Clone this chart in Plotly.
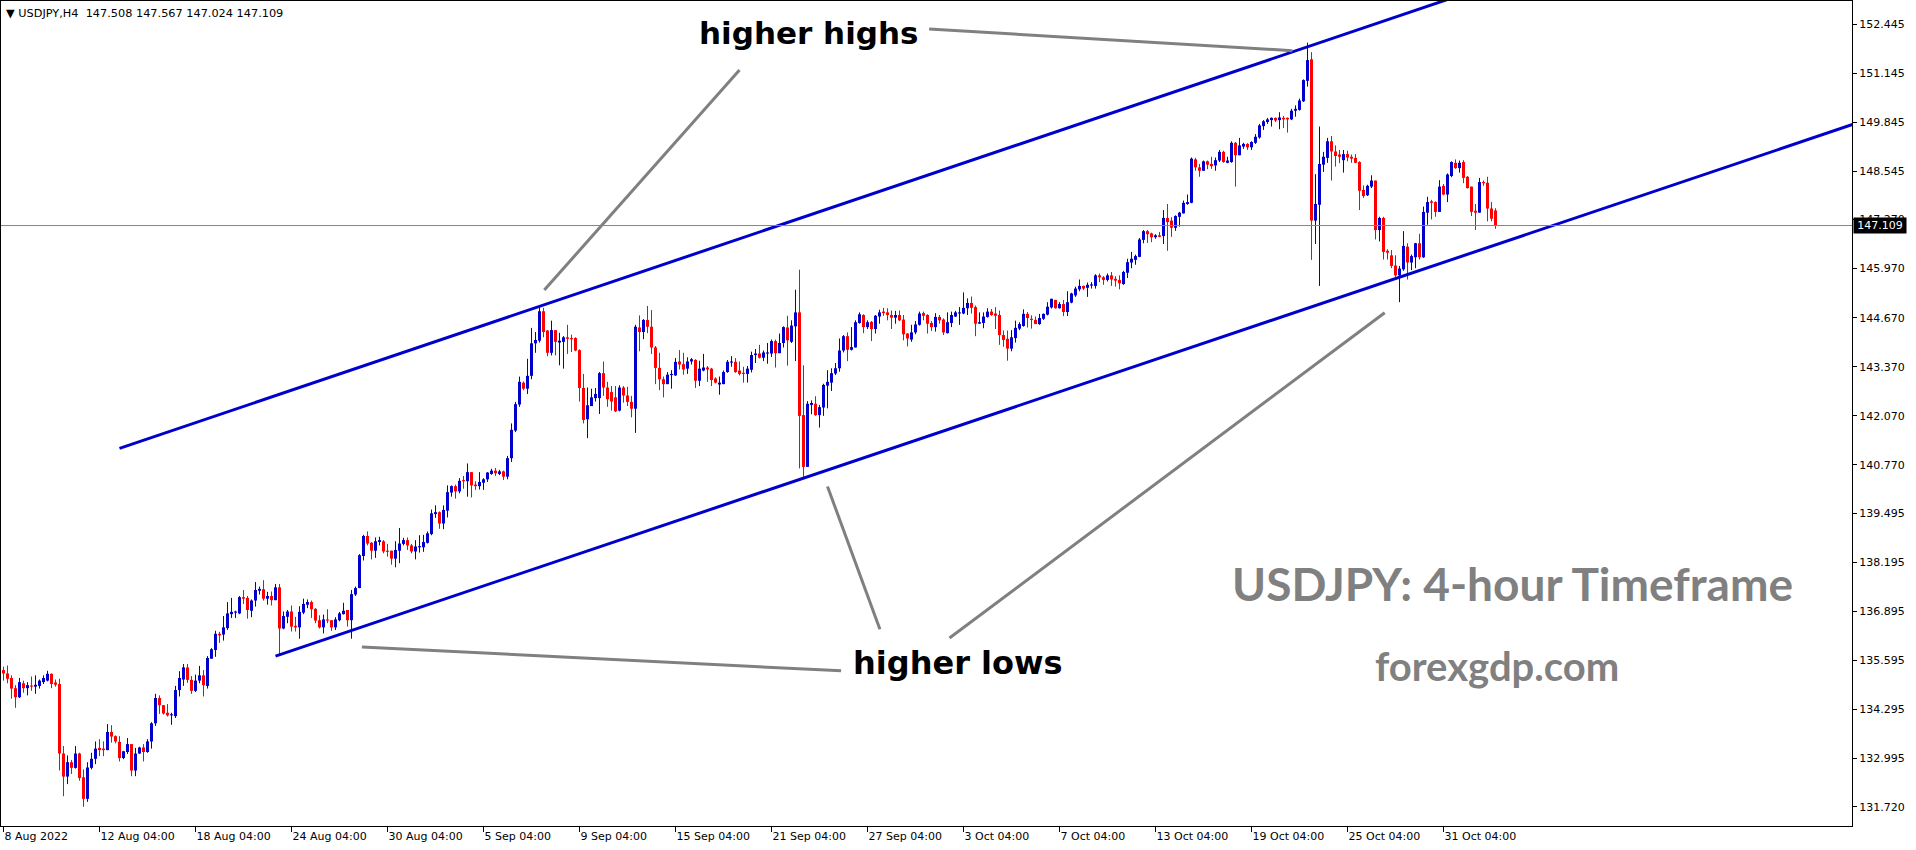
import plotly.graph_objects as go

# ---------------- data ----------------
TICK_BARS = [0, 24, 48, 72, 96, 120, 144, 168, 192, 216, 240, 264, 288, 312, 336, 360]
TICK_LABELS = ["8 Aug 2022", "12 Aug 04:00", "18 Aug 04:00", "24 Aug 04:00", "30 Aug 04:00",
               "5 Sep 04:00", "9 Sep 04:00", "15 Sep 04:00", "21 Sep 04:00", "27 Sep 04:00",
               "3 Oct 04:00", "7 Oct 04:00", "13 Oct 04:00", "19 Oct 04:00", "25 Oct 04:00",
               "31 Oct 04:00"]

PRICE_TICKS = [152.445, 151.145, 149.845, 148.545, 147.270, 145.970, 144.670, 143.370,
               142.070, 140.770, 139.495, 138.195, 136.895, 135.595, 134.295, 132.995, 131.720]

OPEN = [135.34, 135.25, 135.13, 134.86, 134.62, 134.99, 134.86, 134.92, 134.90, 134.92,
        135.02, 135.06, 135.24, 135.01, 134.97, 133.13, 132.52, 132.90, 132.75, 133.13,
        132.50, 131.93, 132.75, 132.99, 133.28, 133.26, 133.22, 133.70, 133.59, 133.44,
        133.01, 133.17, 133.38, 132.68, 133.13, 133.29, 133.17, 133.45, 133.93, 134.60,
        134.41, 134.21, 134.14, 134.12, 134.81, 135.09, 135.41, 135.08, 134.79, 135.06,
        135.20, 134.92, 135.64, 135.87, 136.30, 136.28, 136.45, 136.82, 136.86, 136.84,
        137.27, 137.25, 136.91, 137.18, 137.44, 137.48, 137.23, 137.30, 137.19, 137.53,
        136.44, 136.75, 136.89, 136.51, 136.47, 136.86, 137.07, 137.14, 136.96, 136.66,
        136.47, 136.68, 136.66, 136.47, 136.66, 136.82, 136.93, 136.66, 137.34, 137.51,
        138.36, 138.89, 138.71, 138.50, 138.73, 138.75, 138.50, 138.50, 138.29, 138.50,
        138.68, 138.78, 138.64, 138.48, 138.59, 138.59, 138.71, 138.94, 139.47, 139.52,
        139.22, 139.56, 140.04, 140.21, 140.07, 140.35, 140.34, 140.58, 140.25, 140.21,
        140.30, 140.39, 140.53, 140.62, 140.53, 140.60, 140.46, 140.95, 141.68, 142.37,
        142.95, 142.79, 143.13, 143.99, 144.06, 144.84, 144.33, 143.74, 144.34, 144.01,
        144.03, 144.15, 144.13, 144.13, 143.81, 142.81, 141.98, 142.33, 142.54, 142.54,
        143.20, 142.82, 142.70, 142.56, 142.21, 142.82, 142.61, 142.44, 142.26, 144.41,
        144.29, 144.61, 144.43, 143.88, 143.34, 143.04, 142.91, 143.15, 143.14, 143.51,
        143.44, 143.32, 143.51, 143.55, 143.00, 143.27, 143.35, 143.32, 143.06, 142.90,
        142.91, 143.23, 143.48, 143.50, 143.27, 143.21, 143.18, 143.29, 143.68, 143.72,
        143.61, 143.72, 143.72, 144.05, 143.73, 144.00, 144.41, 144.03, 144.44, 144.81,
        142.09, 140.72, 142.36, 142.39, 142.09, 142.29, 142.87, 142.95, 143.19, 143.33,
        143.80, 144.18, 143.82, 143.88, 144.53, 144.74, 144.42, 144.56, 144.37, 144.70,
        144.83, 144.81, 144.74, 144.67, 144.74, 144.62, 144.25, 144.09, 144.28, 144.48,
        144.79, 144.74, 144.53, 144.42, 144.69, 144.62, 144.26, 144.53, 144.70, 144.78,
        144.78, 144.92, 145.06, 144.95, 144.51, 144.53, 144.69, 144.83, 144.78, 144.74,
        144.21, 144.11, 143.85, 144.13, 144.38, 144.45, 144.77, 144.64, 144.61, 144.50,
        144.64, 144.75, 144.94, 145.14, 144.92, 145.03, 144.82, 145.07, 145.26, 145.42,
        145.51, 145.46, 145.52, 145.51, 145.79, 145.74, 145.67, 145.79, 145.70, 145.67,
        145.56, 145.86, 146.13, 146.20, 146.28, 146.73, 146.96, 146.90, 146.80, 146.85,
        146.83, 147.31, 147.24, 147.05, 147.34, 147.43, 147.68, 147.71, 148.86, 148.65,
        148.56, 148.81, 148.74, 148.70, 148.83, 149.06, 148.77, 148.79, 149.30, 148.97,
        149.20, 149.27, 149.18, 149.30, 149.44, 149.74, 149.85, 149.90, 149.96, 149.90,
        149.96, 149.96, 149.92, 150.15, 150.17, 150.40, 150.94, 151.51, 147.24, 147.66,
        148.72, 148.90, 149.34, 149.07, 148.99, 148.84, 149.00, 148.93, 148.90, 148.79,
        148.05, 147.91, 148.14, 148.30, 146.99, 147.31, 146.44, 146.32, 146.05, 145.79,
        145.95, 146.55, 146.13, 146.27, 146.64, 146.27, 147.45, 147.75, 147.73, 147.47,
        148.16, 147.93, 148.42, 148.77, 148.63, 148.79, 148.40, 148.14, 147.50, 147.45,
        148.26, 148.24, 147.56, 147.508]

HIGH = [135.43, 135.46, 135.20, 134.94, 135.13, 135.06, 135.02, 135.17, 135.20, 135.09,
        135.20, 135.32, 135.25, 135.09, 135.11, 133.33, 133.08, 132.96, 133.33, 133.15,
        132.71, 132.90, 133.15, 133.45, 133.51, 133.45, 133.91, 133.88, 133.61, 133.59,
        133.20, 133.54, 133.38, 133.28, 133.31, 133.38, 133.51, 133.96, 134.71, 134.67,
        134.41, 134.44, 134.21, 134.92, 135.31, 135.50, 135.50, 135.18, 135.22, 135.45,
        135.34, 135.71, 135.92, 136.38, 136.35, 136.77, 137.14, 137.25, 136.91, 137.30,
        137.46, 137.30, 137.21, 137.67, 137.55, 137.72, 137.41, 137.42, 137.62, 137.62,
        136.89, 136.93, 137.05, 136.75, 137.03, 137.23, 137.21, 137.18, 136.98, 136.79,
        136.81, 136.95, 136.66, 136.74, 136.88, 137.12, 136.93, 137.46, 137.55, 138.41,
        138.92, 139.01, 138.73, 138.85, 138.87, 138.78, 138.68, 138.50, 138.75, 139.10,
        138.84, 138.85, 138.68, 138.78, 138.91, 138.92, 139.01, 139.59, 139.70, 139.54,
        139.70, 140.23, 140.23, 140.25, 140.42, 140.48, 140.81, 140.58, 140.34, 140.58,
        140.42, 140.58, 140.67, 140.69, 140.64, 140.62, 141.01, 141.87, 142.44, 143.11,
        142.98, 143.58, 144.40, 144.29, 144.94, 144.93, 144.34, 144.59, 144.34, 144.27,
        144.18, 144.48, 144.22, 144.15, 143.83, 143.18, 142.82, 142.79, 142.81, 143.23,
        143.51, 142.97, 142.86, 142.86, 142.88, 142.86, 142.84, 142.60, 144.48, 144.73,
        144.63, 144.98, 144.87, 143.92, 143.74, 143.11, 143.23, 143.28, 143.60, 143.81,
        143.74, 143.62, 143.60, 143.57, 143.53, 143.71, 143.39, 143.34, 143.09, 143.11,
        143.27, 143.55, 143.65, 143.60, 143.51, 143.37, 143.39, 143.77, 143.84, 143.95,
        143.80, 144.00, 144.09, 144.09, 144.25, 144.44, 144.72, 144.60, 145.41, 145.94,
        143.41, 142.46, 142.48, 142.59, 142.36, 142.92, 143.28, 143.33, 143.47, 144.12,
        144.21, 144.28, 144.42, 144.60, 144.81, 144.76, 144.60, 144.58, 144.74, 144.88,
        144.93, 144.92, 144.86, 144.85, 144.86, 144.74, 144.26, 144.48, 144.58, 144.83,
        144.83, 144.76, 144.58, 144.79, 144.74, 144.65, 144.81, 144.83, 144.85, 144.95,
        145.34, 145.18, 145.23, 144.99, 144.81, 144.81, 144.92, 144.90, 144.95, 144.86,
        144.33, 144.33, 144.34, 144.59, 144.55, 144.89, 144.82, 144.73, 144.70, 144.77,
        144.78, 145.08, 145.17, 145.14, 145.08, 145.14, 145.37, 145.33, 145.49, 145.68,
        145.52, 145.60, 145.61, 145.82, 145.84, 145.77, 145.84, 145.88, 145.77, 145.79,
        145.91, 146.23, 146.41, 146.34, 146.78, 146.99, 146.99, 146.92, 146.88, 146.94,
        147.52, 147.68, 147.33, 147.38, 147.47, 147.77, 147.93, 148.91, 148.90, 148.74,
        148.83, 148.83, 148.93, 148.91, 149.11, 149.09, 148.93, 149.34, 149.32, 149.43,
        149.30, 149.29, 149.34, 149.53, 149.80, 149.90, 149.96, 149.97, 149.97, 150.11,
        150.01, 149.97, 150.20, 150.29, 150.47, 150.98, 151.95, 151.70, 148.47, 149.73,
        149.06, 149.43, 149.48, 149.23, 149.11, 149.11, 149.09, 148.99, 149.00, 148.81,
        148.17, 148.19, 148.44, 148.30, 147.34, 147.34, 146.48, 146.46, 146.32, 146.04,
        146.96, 146.64, 146.34, 146.65, 146.89, 147.61, 147.87, 147.79, 147.75, 148.31,
        148.21, 148.49, 148.81, 148.86, 148.83, 148.84, 148.42, 148.14, 147.68, 148.37,
        148.30, 148.40, 147.73, 147.567]

LOW = [135.06, 134.99, 134.58, 134.34, 134.60, 134.74, 134.67, 134.79, 134.71, 134.85,
       134.97, 135.04, 134.86, 134.90, 132.68, 132.00, 132.32, 132.59, 132.73, 132.41,
       131.72, 131.85, 132.71, 132.85, 133.06, 133.06, 133.22, 133.42, 133.40, 132.92,
       132.98, 133.12, 132.53, 132.53, 133.12, 132.92, 133.15, 133.26, 133.86, 134.18,
       134.16, 134.11, 133.89, 134.07, 134.64, 134.92, 135.00, 134.71, 134.76, 134.99,
       134.64, 134.85, 135.64, 135.69, 136.06, 136.12, 136.40, 136.72, 136.72, 136.82,
       137.09, 136.70, 136.74, 137.02, 137.34, 137.18, 137.07, 137.05, 137.19, 135.76,
       136.42, 136.58, 136.36, 136.36, 136.17, 136.82, 136.98, 136.72, 136.58, 136.44,
       136.31, 136.58, 136.38, 136.40, 136.63, 136.81, 136.49, 136.17, 137.30, 137.51,
       138.24, 138.64, 138.27, 138.31, 138.64, 138.43, 138.34, 138.13, 138.06, 138.17,
       138.64, 138.52, 138.43, 138.27, 138.45, 138.47, 138.69, 138.91, 139.37, 139.08,
       139.07, 139.38, 139.93, 139.88, 140.02, 140.14, 139.93, 139.91, 140.11, 140.12,
       140.11, 140.32, 140.51, 140.48, 140.50, 140.37, 140.39, 140.85, 141.64, 142.31,
       142.75, 142.65, 143.04, 143.74, 144.01, 144.15, 143.65, 143.67, 143.67, 143.41,
       143.32, 143.71, 143.76, 143.78, 142.45, 141.87, 141.48, 142.33, 142.45, 142.12,
       142.60, 142.31, 142.21, 142.17, 142.19, 142.42, 142.33, 142.03, 141.62, 143.78,
       144.10, 144.26, 143.71, 142.91, 142.75, 142.56, 142.91, 142.79, 143.13, 143.30,
       143.16, 143.18, 143.43, 142.81, 142.86, 143.25, 142.97, 142.86, 142.93, 142.63,
       142.91, 143.21, 143.37, 143.21, 143.14, 142.95, 142.95, 143.22, 143.47, 143.59,
       143.52, 143.45, 143.63, 143.35, 143.73, 143.88, 143.40, 144.00, 143.52, 140.68,
       140.45, 140.72, 142.11, 142.07, 141.76, 142.07, 142.27, 142.73, 143.15, 143.24,
       143.75, 143.52, 143.80, 143.88, 144.51, 144.26, 144.37, 144.05, 144.25, 144.51,
       144.72, 144.60, 144.37, 144.51, 144.58, 144.07, 143.91, 144.03, 144.23, 144.46,
       144.60, 144.25, 144.32, 144.30, 144.51, 144.21, 144.25, 144.42, 144.69, 144.48,
       144.76, 144.74, 144.78, 144.18, 144.51, 144.39, 144.67, 144.72, 144.37, 143.95,
       143.90, 143.53, 143.78, 144.01, 144.34, 144.43, 144.41, 144.38, 144.50, 144.48,
       144.61, 144.73, 144.91, 144.91, 144.91, 144.71, 144.71, 145.05, 145.22, 145.37,
       145.40, 145.22, 145.44, 145.44, 145.61, 145.54, 145.63, 145.51, 145.49, 145.42,
       145.54, 145.72, 145.98, 146.07, 146.27, 146.64, 146.65, 146.67, 146.76, 146.80,
       146.62, 146.44, 146.81, 146.97, 147.08, 147.43, 147.66, 147.70, 148.56, 148.40,
       148.56, 148.60, 148.61, 148.56, 148.79, 148.77, 148.76, 148.77, 148.14, 148.97,
       149.14, 149.11, 149.11, 149.27, 149.41, 149.64, 149.80, 149.73, 149.85, 149.66,
       149.69, 149.57, 149.90, 149.99, 150.15, 150.38, 150.79, 146.20, 146.62, 145.51,
       148.53, 148.77, 148.30, 148.67, 148.76, 148.51, 148.81, 148.77, 148.76, 147.52,
       147.84, 147.89, 148.10, 146.74, 146.69, 146.21, 146.21, 145.98, 145.75, 145.08,
       145.91, 145.68, 145.93, 145.98, 146.21, 146.25, 147.13, 147.27, 147.34, 147.47,
       147.91, 147.73, 148.39, 148.61, 148.51, 148.23, 148.09, 147.36, 146.99, 147.45,
       148.16, 147.22, 147.22, 147.024]

CLOSE = [135.25, 135.11, 134.85, 134.62, 135.02, 134.86, 134.94, 134.90, 134.95, 135.06,
         135.13, 135.24, 134.97, 134.95, 133.13, 132.52, 132.90, 132.75, 133.13, 132.48,
         131.93, 132.76, 132.99, 133.26, 133.22, 133.22, 133.70, 133.58, 133.45, 133.01,
         133.19, 133.38, 132.68, 133.13, 133.29, 133.17, 133.45, 133.93, 134.60, 134.41,
         134.19, 134.14, 134.16, 134.81, 135.13, 135.41, 135.08, 134.79, 135.06, 135.20,
         134.94, 135.66, 135.89, 136.30, 136.26, 136.47, 136.84, 136.88, 136.88, 137.27,
         137.23, 136.93, 137.18, 137.46, 137.49, 137.23, 137.30, 137.19, 137.53, 136.44,
         136.77, 136.89, 136.49, 136.47, 136.88, 137.09, 137.14, 136.95, 136.65, 136.47,
         136.68, 136.65, 136.47, 136.68, 136.84, 136.91, 136.66, 137.35, 137.51, 138.38,
         138.89, 138.69, 138.50, 138.75, 138.78, 138.48, 138.47, 138.29, 138.52, 138.69,
         138.78, 138.64, 138.48, 138.61, 138.61, 138.73, 138.96, 139.49, 139.52, 139.22,
         139.58, 140.05, 140.21, 140.07, 140.35, 140.34, 140.58, 140.23, 140.21, 140.32,
         140.39, 140.57, 140.62, 140.55, 140.60, 140.46, 140.95, 141.70, 142.38, 142.97,
         142.79, 143.13, 143.99, 144.08, 144.84, 144.29, 143.74, 144.34, 144.03, 144.06,
         144.15, 144.11, 144.10, 143.80, 142.81, 141.96, 142.35, 142.56, 142.65, 143.20,
         142.82, 142.51, 142.45, 142.19, 142.82, 142.61, 142.44, 142.26, 144.43, 144.29,
         144.61, 144.43, 143.88, 143.34, 143.04, 142.91, 143.16, 143.16, 143.50, 143.43,
         143.30, 143.51, 143.57, 143.00, 143.32, 143.35, 143.30, 143.02, 142.95, 142.95,
         143.23, 143.50, 143.51, 143.23, 143.18, 143.18, 143.32, 143.68, 143.72, 143.61,
         143.75, 143.75, 144.05, 143.73, 144.00, 144.42, 144.07, 144.46, 144.81, 142.07,
         140.72, 142.39, 142.41, 142.09, 142.30, 142.89, 142.97, 143.20, 143.33, 143.80,
         144.18, 143.82, 143.89, 144.55, 144.76, 144.42, 144.55, 144.37, 144.72, 144.81,
         144.79, 144.74, 144.67, 144.74, 144.60, 144.23, 144.12, 144.28, 144.49, 144.78,
         144.72, 144.51, 144.42, 144.69, 144.60, 144.28, 144.55, 144.74, 144.81, 144.81,
         144.93, 145.06, 144.93, 144.51, 144.55, 144.70, 144.83, 144.74, 144.72, 144.21,
         144.08, 143.85, 144.15, 144.40, 144.50, 144.77, 144.66, 144.61, 144.50, 144.66,
         144.77, 144.96, 145.17, 144.92, 145.03, 144.82, 145.08, 145.31, 145.44, 145.51,
         145.44, 145.54, 145.54, 145.79, 145.74, 145.67, 145.79, 145.68, 145.65, 145.58,
         145.88, 146.14, 146.23, 146.30, 146.74, 146.96, 146.88, 146.80, 146.85, 146.81,
         147.31, 147.20, 147.05, 147.36, 147.45, 147.71, 147.73, 148.88, 148.65, 148.56,
         148.81, 148.72, 148.68, 148.84, 149.06, 148.79, 148.83, 149.30, 148.97, 149.23,
         149.27, 149.18, 149.32, 149.46, 149.76, 149.87, 149.92, 149.96, 149.89, 149.97,
         149.92, 149.92, 150.15, 150.20, 150.42, 150.96, 151.49, 147.24, 147.68, 148.74,
         148.93, 149.34, 149.07, 148.95, 148.93, 149.00, 148.91, 148.88, 148.77, 148.03,
         147.89, 148.16, 148.30, 146.99, 147.31, 146.41, 146.39, 146.04, 145.79, 145.97,
         146.57, 146.13, 146.30, 146.64, 146.27, 147.47, 147.73, 147.71, 147.47, 148.14,
         147.93, 148.46, 148.79, 148.63, 148.77, 148.37, 148.10, 147.47, 147.45, 148.26,
         148.23, 147.56, 147.29, 147.109]

LAST_PRICE = 147.109
HEADER_VALUES = ["147.508", "147.567", "147.024", "147.109"]

# drawn objects, in (bar index, price)
UPPER_CHANNEL = [(29, 141.21), (362, 153.13)]
LOWER_CHANNEL = [(68, 135.71), (470, 150.06)]
POINTER_LINES = [
    [(184.0, 151.23), (135.2, 145.40)],
    [(231.4, 152.31), (322.2, 151.74)],
    [(219.1, 136.42), (206.0, 140.20)],
    [(236.5, 136.19), (345.3, 144.80)],
    [(209.4, 135.32), (89.6, 135.95)],
]

# ---------------- style ----------------
BULL = "#0000CD"
BEAR = "#FF0000"
CHANNEL = "#0000CD"
POINTER = "#808080"
FONT = "DejaVu Sans"

W, H = 1916, 850
M_L, M_R, M_T, M_B = 1, 64, 1, 24
PX_PER_BAR = 4.0
PX_PER_YEN = 37.77
X0 = -0.625
X1 = X0 + (W - M_L - M_R) / PX_PER_BAR
Y_TOP = 152.445 + 23 / PX_PER_YEN
Y_BOT = Y_TOP - (H - M_T - M_B) / PX_PER_YEN

fig = go.Figure()

n = len(CLOSE)
idx = list(range(n))
up = [i for i in idx if CLOSE[i] >= OPEN[i]]
dn = [i for i in idx if CLOSE[i] < OPEN[i]]
MIN_BODY = 0.03


def wick_trace(ids, color):
    xs, ys = [], []
    for i in ids:
        xs += [i, i, None]
        ys += [LOW[i], HIGH[i], None]
    return go.Scatter(x=xs, y=ys, mode="lines", line=dict(color=color, width=1),
                      hoverinfo="skip", showlegend=False)


def body_trace(ids, color):
    return go.Bar(x=ids,
                  base=[min(OPEN[i], CLOSE[i]) for i in ids],
                  y=[max(abs(CLOSE[i] - OPEN[i]), MIN_BODY) for i in ids],
                  width=0.75, marker=dict(color=color, line=dict(width=0)),
                  hoverinfo="skip", showlegend=False)


fig.add_trace(wick_trace(up, BULL))
fig.add_trace(wick_trace(dn, BEAR))
fig.add_trace(body_trace(up, BULL))
fig.add_trace(body_trace(dn, BEAR))

for line in (UPPER_CHANNEL, LOWER_CHANNEL):
    fig.add_trace(go.Scatter(x=[p[0] for p in line], y=[p[1] for p in line], mode="lines",
                             line=dict(color=CHANNEL, width=3), hoverinfo="skip",
                             showlegend=False))

for line in POINTER_LINES:
    fig.add_trace(go.Scatter(x=[p[0] for p in line], y=[p[1] for p in line], mode="lines",
                             line=dict(color=POINTER, width=3), hoverinfo="skip",
                             showlegend=False))

# bid line
fig.add_shape(type="line", xref="paper", x0=0, x1=1, yref="y", y0=LAST_PRICE, y1=LAST_PRICE,
              line=dict(color="#778899", width=1))

annotations = [
    dict(text="\u25BC USDJPY,H4\u00a0\u00a0" + " ".join(HEADER_VALUES), xref="paper", yref="paper",
         x=0, y=1, xanchor="left", yanchor="top", xshift=3, yshift=-4, showarrow=False,
         font=dict(family=FONT, size=11.3, color="black")),
    dict(text=f"\u2009{LAST_PRICE:.3f}\u2009", xref="paper", x=1, xanchor="left", xshift=1,
         yref="y", y=LAST_PRICE, yanchor="middle", showarrow=False, bgcolor="black",
         borderpad=1, font=dict(family=FONT, size=11, color="white")),
    dict(text="higher highs", x=201.2, y=152.21, xref="x", yref="y", showarrow=False,
         font=dict(family=FONT, size=31, color="black", weight="bold")),
    dict(text="higher lows", x=238.7, y=135.53, xref="x", yref="y", showarrow=False,
         font=dict(family=FONT, size=32, color="black", weight="bold")),
    dict(text="USDJPY: 4-hour Timeframe", x=377.2, y=137.62, xref="x", yref="y",
         showarrow=False, font=dict(family="Lato", size=46, color="#808080", weight="bold")),
    dict(text="forexgdp.com", x=373.4, y=135.45, xref="x", yref="y",
         showarrow=False, font=dict(family="Lato", size=40, color="#808080", weight="bold")),
]

fig.update_layout(
    width=W, height=H,
    margin=dict(l=M_L, r=M_R, t=M_T, b=M_B, pad=0),
    paper_bgcolor="white", plot_bgcolor="white",
    barmode="overlay", showlegend=False, hovermode=False,
    annotations=annotations,
    xaxis=dict(range=[X0, X1], tickmode="array", tickvals=TICK_BARS, ticktext=TICK_LABELS,
               ticks="outside", ticklen=5, tickcolor="black", tickwidth=1,
               ticklabelposition="outside right",
               showline=True, linecolor="black", linewidth=1, mirror=True,
               showgrid=False, zeroline=False, automargin=False,
               tickfont=dict(family=FONT, size=11, color="black")),
    yaxis=dict(range=[Y_BOT, Y_TOP], side="right", tickmode="array", tickvals=PRICE_TICKS,
               ticktext=[f"{v:.3f}" for v in PRICE_TICKS],
               ticks="outside", ticklen=4, tickcolor="black", tickwidth=1,
               showline=True, linecolor="black", linewidth=1, mirror=True,
               showgrid=False, zeroline=False, automargin=False,
               tickfont=dict(family=FONT, size=11, color="black")),
)

fig.write_html(
    "out.html",
    config={"displayModeBar": False, "staticPlot": True},
    post_script="document.body.style.margin='0';document.body.style.padding='0';"
                "document.body.style.overflow='hidden';"
                "document.documentElement.style.overflow='hidden';",
)
